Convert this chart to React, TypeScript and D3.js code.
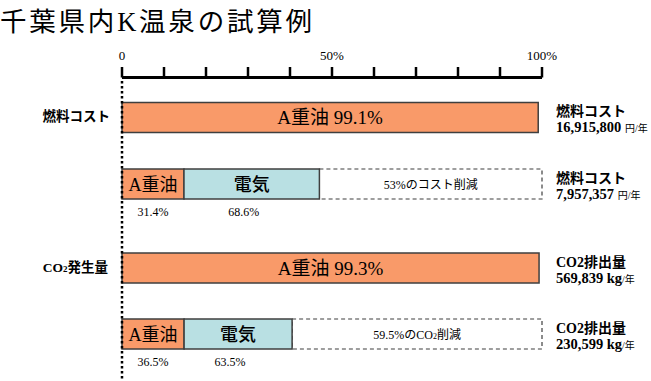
import React from "react";
import * as d3 from "d3";

const title = "千葉県内K温泉の試算例";
const axisTicks = [0, 10, 20, 30, 40, 50, 60, 70, 80, 90, 100];
const axisTickLabels = [
  { v: 0, t: "0" },
  { v: 50, t: "50%" },
  { v: 100, t: "100%" },
];
const groupLabels = ["燃料コスト", "CO₂発生量"];
const beforeValues = [99.1, 99.3];
const reductions = [53, 59.5];
const oilShares = [31.4, 36.5];
const elecShares = [68.6, 63.5];
const rightTitles = ["燃料コスト", "燃料コスト", "CO2排出量", "CO2排出量"];
const rightValues = ["16,915,800", "7,957,357", "569,839", "230,599"];
const rightUnitMain = ["円", "円", "kg", "kg"];

const W = 651;
const H = 381;
const LATIN = "'Liberation Serif', serif";
const CJK = "'Noto Sans CJK JP', sans-serif";
const ORANGE = "#F99A69";
const BLUE = "#B9E0E3";
const EDGE = "#3f3f3f";

// split a string into runs so Latin glyphs use the serif and CJK glyphs the Japanese font
function runs(s: string) {
  const out: { t: string; cjk: boolean }[] = [];
  for (const ch of s) {
    const cjk = /[\u3000-\u9fff\uff00-\uffef]/.test(ch);
    const last = out[out.length - 1];
    if (last && last.cjk === cjk) last.t += ch;
    else out.push({ t: ch, cjk });
  }
  return out;
}

function Mixed({ s, weight }: { s: string; weight?: number }) {
  return (
    <>
      {runs(s).map((r, i) => (
        <tspan key={i} fontFamily={r.cjk ? CJK : LATIN} fontWeight={weight}>
          {r.t}
        </tspan>
      ))}
    </>
  );
}

export default function App() {
  const x = d3.scaleLinear().domain([0, 100]).range([122, 542]);
  const rowTops = [102.5, 169, 253, 319];
  const barH = 30;
  const axisY = 77.5;

  const rows: any[] = [];
  groupLabels.forEach((g, i) => {
    rows.push({ kind: "full", top: rowTops[i * 2], value: beforeValues[i], idx: i * 2 });
    rows.push({ kind: "split", top: rowTops[i * 2 + 1], group: i, idx: i * 2 + 1 });
  });

  return (
    <svg width={W} height={H} style={{ position: "absolute", left: 0, top: 0, background: "#fff" }}>
      <text x={0} y={31} fontSize={26.5} fill="#000" textLength={312} lengthAdjust="spacing">
        <Mixed s={title} />
      </text>

      {/* axis */}
      <line x1={x(0)} x2={x(100)} y1={axisY} y2={axisY} stroke="#000" strokeWidth={3} />
      {axisTicks.map((t) => (
        <line key={t} x1={x(t)} x2={x(t)} y1={67} y2={axisY} stroke="#000" strokeWidth={2.5} />
      ))}
      {axisTickLabels.map((d) => (
        <text key={d.v} x={x(d.v)} y={60} textAnchor="middle" fontFamily={LATIN} fontSize={13} fill="#000">
          {d.t}
        </text>
      ))}

      {/* left group labels */}
      <text x={110} y={121} textAnchor="end" fontSize={13.5} fill="#000">
        <Mixed s={groupLabels[0]} weight={700} />
      </text>
      <text x={108} y={272} textAnchor="end" fontSize={13.5} fill="#000">
        <tspan fontFamily={LATIN} fontWeight={700}>CO</tspan>
        <tspan fontFamily={LATIN} fontWeight={700} fontSize={9}>2</tspan>
        <tspan fontFamily={CJK} fontWeight={700}>発生量</tspan>
      </text>

      {rows.map((r) => {
        if (r.kind === "full") {
          return (
            <g key={r.idx}>
              <rect
                x={x(0)}
                y={r.top}
                width={x(r.value) - x(0)}
                height={barH}
                fill={ORANGE}
                stroke={EDGE}
                strokeWidth={1.5}
              />
              <text
                x={(x(0) + x(r.value)) / 2}
                y={r.top + barH / 2 + 6.5}
                textAnchor="middle"
                fontSize={19}
                fill="#000"
              >
                <Mixed s={"A重油 " + r.value + "%"} />
              </text>
            </g>
          );
        }
        const i = r.group;
        const total = 100 - reductions[i];
        const oilEnd = (total * oilShares[i]) / 100;
        const x0 = x(0);
        const x1 = x(oilEnd);
        const x2 = x(total);
        const x3 = x(100);
        return (
          <g key={r.idx}>
            <rect
              x={x2}
              y={r.top}
              width={x3 - x2}
              height={barH}
              fill="#fff"
              stroke={EDGE}
              strokeWidth={1.2}
              strokeDasharray="4,3"
            />
            <rect x={x0} y={r.top} width={x1 - x0} height={barH} fill={ORANGE} stroke={EDGE} strokeWidth={1.5} />
            <rect x={x1} y={r.top} width={x2 - x1} height={barH} fill={BLUE} stroke={EDGE} strokeWidth={1.5} />
            <text x={(x0 + x1) / 2} y={r.top + barH / 2 + 6.5} textAnchor="middle" fontSize={18} fill="#000">
              <Mixed s="A重油" />
            </text>
            <text
              x={(x1 + x2) / 2}
              y={r.top + barH / 2 + 6.5}
              textAnchor="middle"
              fontFamily={CJK}
              fontWeight={500}
              fontSize={18}
              fill="#000"
            >
              電気
            </text>
            <text x={(x2 + x3) / 2} y={r.top + barH / 2 + 4.5} textAnchor="middle" fontSize={12} fill="#000">
              {i === 0 ? (
                <Mixed s={reductions[i] + "%のコスト削減"} />
              ) : (
                <>
                  <tspan fontFamily={LATIN}>{reductions[i] + "%"}</tspan>
                  <tspan fontFamily={CJK}>の</tspan>
                  <tspan fontFamily={LATIN}>CO</tspan>
                  <tspan fontFamily={LATIN} fontSize={8}>2</tspan>
                  <tspan fontFamily={CJK}>削減</tspan>
                </>
              )}
            </text>
            <text
              x={(x0 + x1) / 2}
              y={r.top + barH + 17}
              textAnchor="middle"
              fontFamily={LATIN}
              fontSize={12}
              fill="#000"
            >
              {oilShares[i] + "%"}
            </text>
            <text
              x={(x1 + x2) / 2 - 8}
              y={r.top + barH + 17}
              textAnchor="middle"
              fontFamily={LATIN}
              fontSize={12}
              fill="#000"
            >
              {elecShares[i] + "%"}
            </text>
          </g>
        );
      })}

      {/* right-side annotations */}
      {rowTops.map((top, k) => (
        <g key={k}>
          <text x={556} y={top + 13.5} fontSize={14} fill="#000">
            <Mixed s={rightTitles[k]} weight={700} />
          </text>
          <text x={556} y={top + 29.5} fontFamily={LATIN} fontWeight={700} fontSize={14.5} fill="#000">
            {rightValues[k] + " "}
            {rightUnitMain[k] === "kg" ? (
              <tspan fontFamily={LATIN} fontWeight={700}>kg</tspan>
            ) : (
              <tspan fontFamily={CJK} fontWeight={400} fontSize={10}>円</tspan>
            )}
            <tspan fontFamily={LATIN} fontWeight={400} fontSize={10}>/</tspan>
            <tspan fontFamily={CJK} fontWeight={400} fontSize={10}>年</tspan>
          </text>
        </g>
      ))}

      {/* dotted zero line */}
      <line x1={x(0)} x2={x(0)} y1={81} y2={H} stroke="#000" strokeWidth={2.5} strokeDasharray="2.5,2.5" />
    </svg>
  );
}
